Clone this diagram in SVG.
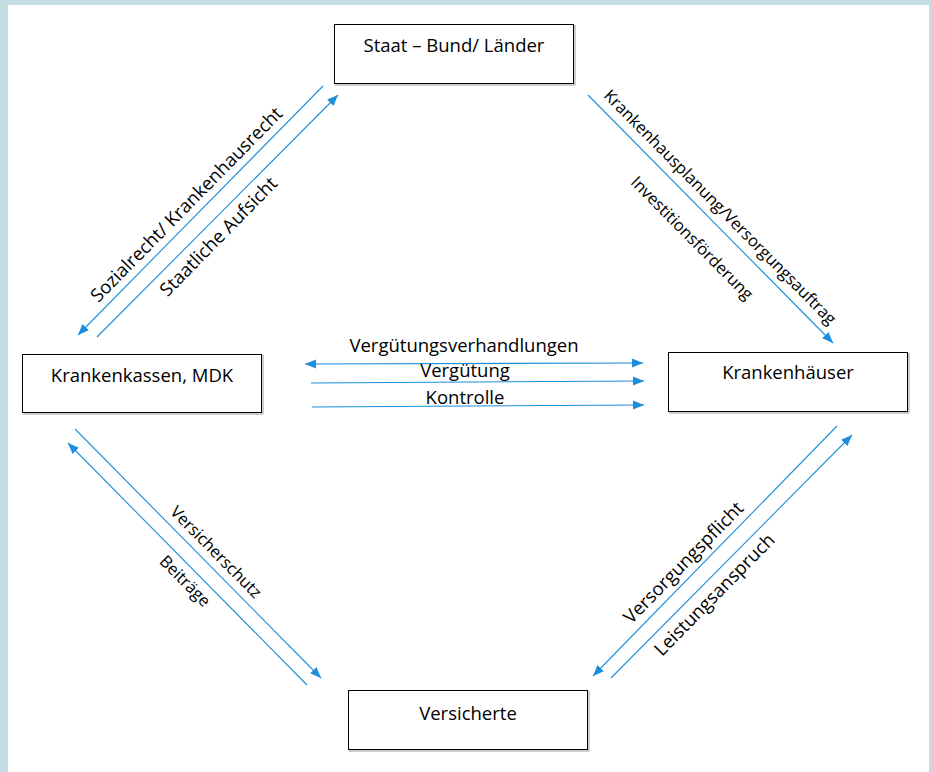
<svg xmlns="http://www.w3.org/2000/svg" width="931" height="772" viewBox="0 0 931 772">
<style>
.box{fill:#fff;stroke:#000;stroke-width:1}
.shadow{fill:none;stroke:#9a9a9a;stroke-width:1}
.lbl{font-family:"Open Sans","Liberation Sans",sans-serif;font-size:18.5px;fill:#000;text-anchor:middle}
.sm{font-size:16.5px}
.con{stroke:#1c8edc;stroke-width:1.1;fill:none;marker-end:url(#ah)}
.dbl{marker-start:url(#ah)}
</style>
<defs>
<marker id="ah" markerUnits="userSpaceOnUse" markerWidth="12" markerHeight="10" refX="11" refY="4.5" orient="auto-start-reverse" viewBox="0 0 12 9">
<path d="M0,0 L11,4.5 L0,9 z" fill="#1c8edc"/>
</marker>
</defs>
<rect x="0" y="0" width="931" height="772" fill="#fff"/>
<rect x="0" y="0" width="931" height="5" fill="#c2dde4"/>
<rect x="0" y="0" width="8" height="772" fill="#c2dde4"/>
<rect x="929" y="0" width="2" height="772" fill="#c2dde4"/>

<g id="staat">
<path class="shadow" d="M575,25 V85 H335"/>
<rect class="box" x="334.5" y="24.5" width="239" height="59"/>
<text class="lbl" x="454" y="52">Staat – Bund/ Länder</text>
</g>
<g id="krankenkassen">
<path class="shadow" d="M263,355 V414 H23"/>
<rect class="box" x="22.5" y="354.5" width="239" height="58"/>
<text class="lbl" x="142" y="382">Krankenkassen, MDK</text>
</g>
<g id="krankenhaeuser">
<path class="shadow" d="M909,353 V413 H669"/>
<rect class="box" x="668.5" y="352.5" width="239" height="59"/>
<text class="lbl" x="788" y="379">Krankenhäuser</text>
</g>
<g id="versicherte">
<path class="shadow" d="M589,691 V751 H349"/>
<rect class="box" x="348.5" y="690.5" width="239" height="59"/>
<text class="lbl" x="468" y="720">Versicherte</text>
</g>

<g id="connectors">
<line class="con" x1="323" y1="86" x2="78" y2="335"/>
<line class="con" x1="97" y1="337" x2="338" y2="95"/>
<line class="con" x1="588" y1="95" x2="833" y2="343"/>
<line class="con dbl" x1="305" y1="364" x2="643" y2="363"/>
<line class="con" x1="311" y1="383" x2="644" y2="381"/>
<line class="con" x1="312" y1="407" x2="644" y2="405"/>
<line class="con" x1="75" y1="429" x2="321" y2="678"/>
<line class="con" x1="307" y1="685" x2="68" y2="443"/>
<line class="con" x1="837" y1="426" x2="593" y2="676"/>
<line class="con" x1="611" y1="678" x2="852" y2="435"/>
</g>

<g id="labels">
<text class="lbl" transform="translate(191,209) rotate(-45.5)">Sozialrecht/ Krankenhausrecht</text>
<text class="lbl" transform="translate(223,241) rotate(-45.5)">Staatliche Aufsicht</text>
<text class="lbl sm" transform="translate(716,211) rotate(45.3)">Krankenhausplanung/Versorgungsauftrag</text>
<text class="lbl sm" transform="translate(688,242) rotate(45.3)">Investitionsförderung</text>
<text class="lbl" x="464" y="352">Vergütungsverhandlungen</text>
<text class="lbl" x="465" y="377">Vergütung</text>
<text class="lbl" x="465" y="404">Kontrolle</text>
<text class="lbl sm" transform="translate(212,556) rotate(45.3)">Versicherschutz</text>
<text class="lbl sm" transform="translate(181,585) rotate(45.3)">Beiträge</text>
<text class="lbl" transform="translate(688,567) rotate(-45.5)">Versorgungspflicht</text>
<text class="lbl" transform="translate(719,599) rotate(-45.5)">Leistungsanspruch</text>
</g>
</svg>
